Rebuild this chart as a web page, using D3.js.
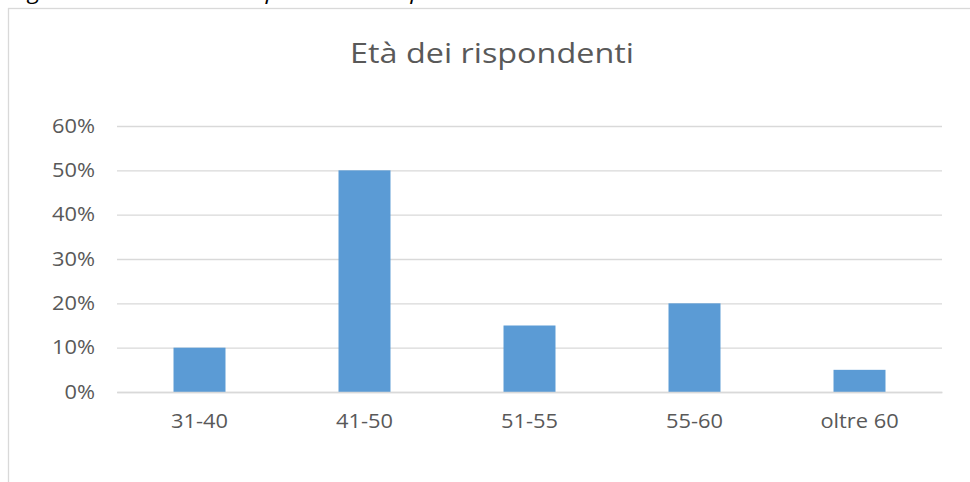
<!DOCTYPE html>
<html>
<head>
<meta charset="utf-8">
<script src="https://cdn.jsdelivr.net/npm/d3@7"></script>
<style>
  html, body { margin: 0; padding: 0; background: #ffffff; }
  svg { display: block; }
</style>
</head>
<body>
<script>
// Age groups of the survey respondents and their share
const categories = ["31-40", "41-50", "51-55", "55-60", "oltre 60"];
const shares = [0.10, 0.50, 0.15, 0.20, 0.05];
const yTicks = [0, 0.1, 0.2, 0.3, 0.4, 0.5, 0.6];
const chartTitle = "Età dei rispondenti";
const captionText = "Figura 3 – Distribuzione per età dei rispondenti";

const W = 970, H = 482;
const fontFamily = "'Open Sans', Lato, sans-serif";
const textColor = "#595959";
const gridColor = "#D9D9D9";
const barColor = "#5B9BD5";
// the whole figure is drawn slightly widened horizontally
const stretch = 1.14;

const svg = d3.select("body").append("svg")
  .attr("width", W).attr("height", H);

// horizontal scale factor that makes a text node `target` pixels wide
function widthScale(node, target) {
  const w = node.getBBox().width;
  return w > 0 ? target / w : stretch;
}

// Caption of the document text above the chart, running off the top edge
const captionG = svg.append("g");
const caption = captionG.append("text")
  .attr("x", 0).attr("y", 0)
  .attr("font-family", fontFamily)
  .attr("font-style", "italic")
  .attr("font-size", 21)
  .attr("fill", "#000")
  .text(captionText);
{
  // shift so that the "g" of the caption starts near x=28
  const gi = captionText.indexOf("g");
  const gx0 = caption.node().getStartPositionOfChar(gi).x * stretch;
  captionG.attr("transform", `translate(${28 - gx0},-1) scale(${stretch},1)`);
}

// Chart frame
svg.append("rect")
  .attr("x", 8.5).attr("y", 8.5)
  .attr("width", W).attr("height", H)
  .attr("fill", "#fff")
  .attr("stroke", gridColor).attr("stroke-width", 1.3);

const plot = { left: 117, right: 942, top: 126, bottom: 392 };

const x = d3.scaleBand()
  .domain(categories)
  .range([plot.left, plot.right])
  .paddingInner(0.685)
  .paddingOuter(0.3425);

const y = d3.scaleLinear()
  .domain([0, 0.6])
  .range([plot.bottom, plot.top]);

// Title
const titleG = svg.append("g");
const title = titleG.append("text")
  .attr("text-anchor", "middle")
  .attr("font-family", fontFamily)
  .attr("font-size", 28)
  .attr("fill", textColor)
  .text(chartTitle);
titleG.attr("transform", `translate(492,63) scale(${widthScale(title.node(), 284)},1)`);

// Horizontal gridlines and percentage labels
const yAxis = d3.axisLeft(y)
  .tickValues(yTicks)
  .tickFormat(d3.format(".0%"))
  .tickSize(-(plot.right - plot.left))
  .tickPadding(22);

const gy = svg.append("g")
  .attr("transform", `translate(${plot.left},0)`)
  .call(yAxis);
gy.select(".domain").remove();
gy.selectAll(".tick line")
  .attr("stroke", gridColor).attr("stroke-width", 1.3);
const yLabels = gy.selectAll(".tick text")
  .attr("font-family", fontFamily)
  .attr("font-size", 19.5)
  .attr("fill", textColor);
{
  const widest = yLabels.filter(d => d === 0.6).node();
  const sy = widthScale(widest, 43);
  yLabels.attr("x", -22 / sy).attr("transform", `scale(${sy},1)`);
}

// Bars
svg.append("g").selectAll("rect")
  .data(categories.map((c, i) => ({ c, v: shares[i] })))
  .join("rect")
  .attr("x", d => x(d.c))
  .attr("y", d => y(d.v))
  .attr("width", x.bandwidth())
  .attr("height", d => y(0) - y(d.v))
  .attr("fill", barColor);

// Category axis (baseline plus labels)
const xAxis = d3.axisBottom(x).tickSize(0).tickPadding(22);
const gx = svg.append("g")
  .attr("transform", `translate(0,${plot.bottom})`)
  .call(xAxis);
gx.select(".domain").attr("stroke", gridColor).attr("stroke-width", 1.3);
const xLabels = gx.selectAll(".tick text")
  .attr("font-family", fontFamily)
  .attr("font-size", 19.5)
  .attr("fill", textColor);
{
  const first = xLabels.filter(d => d === categories[0]).node();
  xLabels.attr("transform", `scale(${widthScale(first, 57)},1)`);
}
</script>
</body>
</html>
